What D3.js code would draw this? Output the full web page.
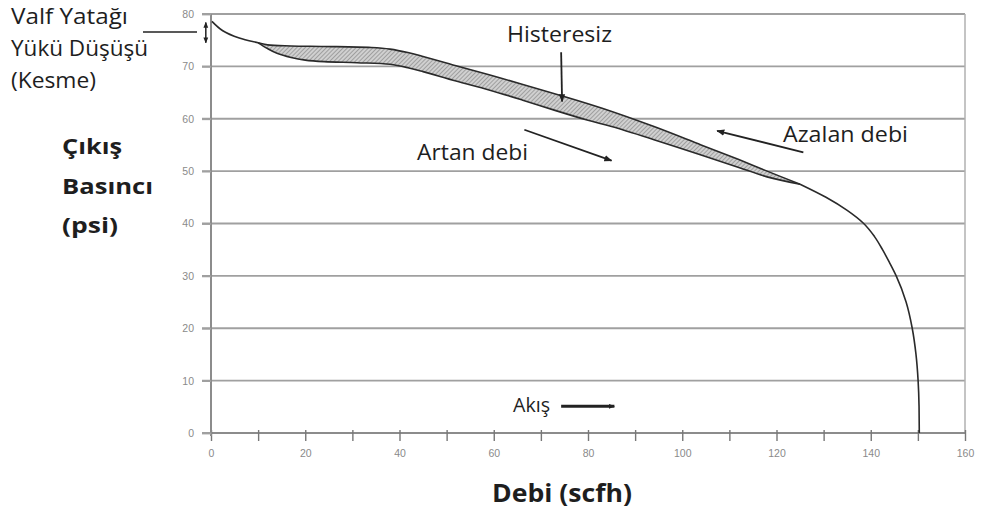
<!DOCTYPE html>
<html><head><meta charset="utf-8">
<script src="https://cdn.jsdelivr.net/npm/d3@7"></script>
<style>
html,body{margin:0;padding:0;background:#fff;}
svg{display:block;}
</style></head>
<body>
<svg id="chart" width="982" height="510"></svg>
<script>
// ---- data ----
const xTickValues = [0,20,40,60,80,100,120,140,160];
const xMinorTicks = [0,10,20,30,40,50,60,70,80,90,100,110,120,130,140,150,160];
const yTickValues = [0,10,20,30,40,50,60,70,80];

// Decreasing flow (upper boundary of hysteresis band), incl. common start
const upperCurve = [[0.2,78.6],[2.5,76.8],[6,75.4],[10,74.5],[12,74.1],[17,73.9],[24,73.8],[34,73.6],[38,73.3],[42,72.6],[45,71.9],[52,70.1],[59,68.4],[66,66.6],[74,64.5],[83,62.0],[94,58.5],[104,55.0],[112,52.2],[118,50.0],[125,47.5]];
// Increasing flow (lower boundary)
const lowerCurve = [[10,74.5],[12,73.4],[14,72.5],[17,71.7],[20,71.2],[24,70.9],[31,70.7],[38,70.4],[42,69.7],[45,69.0],[52,67.2],[59,65.5],[66,63.6],[73,61.6],[80,59.7],[85,58.5],[94,56.0],[104,53.1],[112,50.7],[118,48.9],[125,47.5]];
// Common tail after the curves merge
const tailCurve = [[125,47.5],[130.5,45],[135,42.5],[138.5,40],[140.8,37.5],[142.5,35],[144,32.5],[145.4,30],[147.5,25],[148.8,20],[149.6,15],[150.05,10],[150.25,5],[150.3,0]];

const yTitleLines = ["Çıkış","Basıncı","(psi)"];
const xTitle = "Debi (scfh)";
const cutLines = ["Valf Yatağı","Yükü Düşüşü","(Kesme)"];

// ---- setup ----
const svg = d3.select("#chart");
const x = d3.scaleLinear().domain([0,160]).range([211,965]);
const y = d3.scaleLinear().domain([0,80]).range([433,14]);

const defs = svg.append("defs");
const pat = defs.append("pattern").attr("id","hatch").attr("patternUnits","userSpaceOnUse")
  .attr("width",3).attr("height",3).attr("patternTransform","rotate(45)");
pat.append("rect").attr("width",3).attr("height",3).attr("fill","#d0d0d0");
pat.append("line").attr("x1",0).attr("y1",0).attr("x2",0).attr("y2",3).attr("stroke","#858585").attr("stroke-width",1.3);

function marker(id, size){
  defs.append("marker").attr("id",id).attr("viewBox","0 0 10 10").attr("refX",9).attr("refY",5)
    .attr("markerWidth",size).attr("markerHeight",size).attr("markerUnits","userSpaceOnUse").attr("orient","auto-start-reverse")
    .append("path").attr("d","M0,1 L10,5 L0,9 Z").attr("fill","#222");
}
marker("arr",8);
marker("arrS",6);

// gridlines
svg.append("g").selectAll("line").data(yTickValues).join("line")
  .attr("x1",202).attr("x2",x(160)).attr("y1",d=>y(d)).attr("y2",d=>y(d))
  .attr("stroke","#a0a0a0").attr("stroke-width",1.8);
// right border
svg.append("line").attr("x1",x(160)).attr("x2",x(160)).attr("y1",y(80)).attr("y2",y(0))
  .attr("stroke","#b0b0b0").attr("stroke-width",1.5);

// x axis
const xAxis = svg.append("g").attr("transform",`translate(0,${y(0)})`)
  .call(d3.axisBottom(x).tickValues(xMinorTicks).tickSize(8).tickFormat(d=> d%20===0 ? d : ""));
xAxis.select(".domain").attr("stroke","#8c8c8c").attr("stroke-width",1.8).attr("d",`M${x(0)},0H${x(160)}`);
xAxis.selectAll(".tick line").attr("stroke","#777").attr("stroke-width",1.4).attr("y1",-3);
xAxis.selectAll(".tick text").attr("fill","#8a8a8a").attr("font-family","Liberation Sans, Arial, sans-serif").attr("font-size",10.5).attr("dy","1.2em");

// y axis
const yAxis = svg.append("g").attr("transform",`translate(${x(0)},0)`)
  .call(d3.axisLeft(y).tickValues(yTickValues).tickSize(9).tickPadding(8));
yAxis.select(".domain").attr("stroke","#8c8c8c").attr("stroke-width",2).attr("d",`M0,${y(80)}V${y(0)+3}`);
yAxis.selectAll(".tick line").attr("stroke","#a0a0a0").attr("stroke-width",1.8);
yAxis.selectAll(".tick text").attr("fill","#8a8a8a").attr("font-family","Liberation Sans, Arial, sans-serif").attr("font-size",10.5);

// hysteresis band
const line = d3.line().x(d=>x(d[0])).y(d=>y(d[1])).curve(d3.curveCatmullRom.alpha(0.5));
const tailLine = d3.line().x(d=>x(d[0])).y(d=>y(d[1])).curve(d3.curveMonotoneY);
const bandUpper = upperCurve.filter(d=>d[0]>=10);
const p1 = line(bandUpper);
const p2 = line(lowerCurve.slice().reverse()).replace(/^M/,"L");
svg.append("path").attr("d",p1+p2+"Z").attr("fill","url(#hatch)").attr("stroke","none");

// curves
[upperCurve, lowerCurve].forEach(c=>{
  svg.append("path").attr("d",line(c)).attr("fill","none").attr("stroke","#2a2a2a").attr("stroke-width",1.6);
});
svg.append("path").attr("d",tailLine(tailCurve)).attr("fill","none").attr("stroke","#2a2a2a").attr("stroke-width",1.6);

// annotations
const font = "'Open Sans', 'Noto Sans', sans-serif";
function txt(t, px, py, size, width, weight){
  return svg.append("text").attr("x",px).attr("y",py).text(t)
    .attr("font-family",font).attr("font-size",size).attr("font-weight",weight||"normal")
    .attr("fill","#1e1e1e").attr("textLength",width).attr("lengthAdjust","spacingAndGlyphs");
}
function arrow(xa,ya,xb,yb,w,m){
  svg.append("line").attr("x1",x(xa)).attr("y1",y(ya)).attr("x2",x(xb)).attr("y2",y(yb))
    .attr("stroke","#222").attr("stroke-width",w).attr("marker-end",`url(#${m})`);
}

// Histeresiz
txt("Histeresiz", 507, 41.5, 21, 105);
arrow(74.3, 72.7, 74.5, 63.3, 1.8, "arr");

// Azalan debi
txt("Azalan debi", 783, 141.5, 22, 125);
arrow(125.7, 53.6, 107.4, 57.7, 1.8, "arr");

// Artan debi
txt("Artan debi", 417, 160, 21, 111);
arrow(66.5, 57.9, 85, 52.0, 1.8, "arr");

// Akış
txt("Akış", 513, 412, 19.5, 37);
arrow(74.3, 5.1, 85.6, 5.1, 3, "arrS");

// Valf yatağı yükü düşüşü
const cutWidths = [117,137,85];
cutLines.forEach((t,i)=> txt(t, 11, 24 + i*32, 21.5, cutWidths[i]));
svg.append("line").attr("x1",143).attr("x2",197).attr("y1",32).attr("y2",32).attr("stroke","#222").attr("stroke-width",1.5);
svg.append("line").attr("x1",x(-1.1)).attr("x2",x(-1.1)).attr("y1",y(78.4)).attr("y2",y(74.5))
  .attr("stroke","#222").attr("stroke-width",1.5).attr("marker-end","url(#arrS)").attr("marker-start","url(#arrS)");

// axis titles
const yTitleWidths = [60,91,56];
yTitleLines.forEach((t,i)=> txt(t, 62, 154 + i*39.5, 20.5, yTitleWidths[i], "bold"));
txt(xTitle, 492, 502, 25, 140, "bold");
</script>
</body></html>
